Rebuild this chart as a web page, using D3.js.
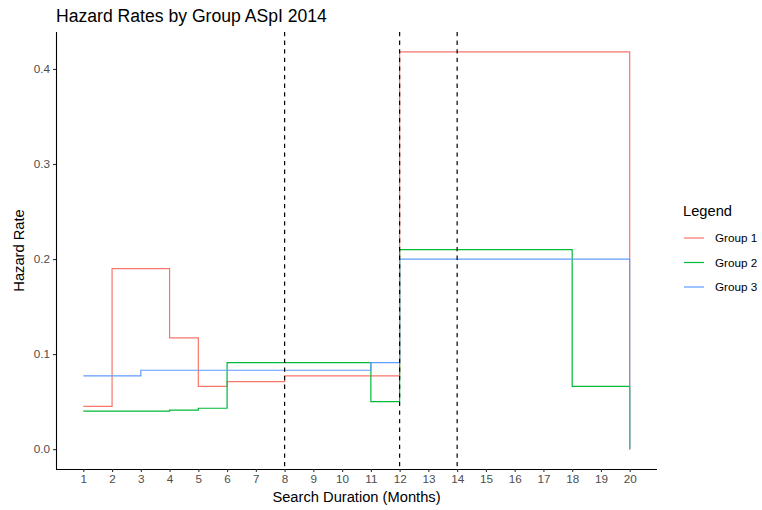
<!DOCTYPE html>
<html>
<head>
<meta charset="utf-8">
<script src="https://cdn.jsdelivr.net/npm/d3@7"></script>
<style>
  html, body { margin: 0; padding: 0; background: #fff; }
  svg { display: block; font-family: "Liberation Sans", Arial, sans-serif; }
</style>
</head>
<body>
<svg id="chart" width="762" height="510"></svg>
<script>
// Monthly hazard rates per group (step function, value holds until the next month)
const months = [1, 2, 3, 4, 5, 6, 7, 8, 9, 10, 11, 12, 13, 14, 15, 16, 17, 18, 19, 20];
const group1 = [0.045, 0.190, 0.190, 0.117, 0.066, 0.071, 0.071, 0.077, 0.077, 0.077, 0.077,
                0.418, 0.418, 0.418, 0.418, 0.418, 0.418, 0.418, 0.418, 0.000];
const group2 = [0.040, 0.040, 0.040, 0.041, 0.043, 0.091, 0.091, 0.091, 0.091, 0.091, 0.050,
                0.210, 0.210, 0.210, 0.210, 0.210, 0.210, 0.066, 0.066, 0.000];
const group3 = [0.077, 0.077, 0.083, 0.083, 0.083, 0.083, 0.083, 0.083, 0.083, 0.083, 0.091,
                0.200, 0.200, 0.200, 0.200, 0.200, 0.200, 0.200, 0.200, 0.000];
const seriesNames = ["Group 1", "Group 2", "Group 3"];
const seriesColors = ["#F8766D", "#00BA38", "#619CFF"];
const markers = [8, 12, 14];
const yTicks = [0.0, 0.1, 0.2, 0.3, 0.4];

const series = [group1, group2, group3].map((vals, i) => ({
  name: seriesNames[i],
  color: seriesColors[i],
  points: months.map((m, j) => ({ x: m, y: vals[j] }))
}));

const svg = d3.select("#chart");
const panel = { left: 56, right: 657, top: 32, bottom: 469 };

// Scales with 5% padding on each side of the data range
const xMin = d3.min(months), xMax = d3.max(months);
const xPad = (xMax - xMin) * 0.05;
const x = d3.scaleLinear().domain([xMin - xPad, xMax + xPad]).range([panel.left, panel.right]);

const allY = series.flatMap(s => s.points.map(p => p.y));
const yMin = d3.min(allY), yMax = d3.max(allY);
const yPad = (yMax - yMin) * 0.05;
const y = d3.scaleLinear().domain([yMin - yPad, yMax + yPad]).range([panel.bottom, panel.top]);

// Step lines
const line = d3.line().x(d => x(d.x)).y(d => y(d.y)).curve(d3.curveStepAfter);
svg.append("g").selectAll("path").data(series).join("path")
  .attr("d", d => line(d.points))
  .attr("fill", "none")
  .attr("stroke", d => d.color)
  .attr("stroke-width", 1.2)
  .attr("stroke-linejoin", "miter");

// Reference lines
svg.append("g").selectAll("line").data(markers).join("line")
  .attr("x1", d => x(d)).attr("x2", d => x(d))
  .attr("y1", panel.top).attr("y2", panel.bottom)
  .attr("stroke", "#000")
  .attr("stroke-width", 1.2)
  .attr("stroke-dasharray", "4.3,4.3");

// Axes
const xAxis = d3.axisBottom(x).tickValues(months).tickSize(3).tickPadding(3).tickSizeOuter(0);
const gx = svg.append("g").attr("transform", `translate(0,${panel.bottom})`).call(xAxis);
const yAxis = d3.axisLeft(y).tickValues(yTicks).tickFormat(d3.format(".1f")).tickSize(3).tickPadding(3).tickSizeOuter(0);
const gy = svg.append("g").attr("transform", `translate(${panel.left},0)`).call(yAxis);

[gx, gy].forEach(g => {
  g.select(".domain").attr("stroke", "#000").attr("stroke-width", 1.1);
  g.selectAll(".tick line").attr("stroke", "#333").attr("stroke-width", 1.1);
  g.selectAll(".tick text").attr("fill", "#4D4D4D").style("font-size", "11.7px")
    .style("font-family", "'Liberation Sans', Arial, sans-serif");
});
// Extend the axis lines to the panel corner
gx.select(".domain").attr("d", `M${panel.left},0.5H${panel.right}`);
gy.select(".domain").attr("d", `M0.5,${panel.bottom}V${panel.top}`);

// Titles
svg.append("text").attr("x", panel.left).attr("y", 22)
  .style("font-size", "17.6px").attr("fill", "#000")
  .text("Hazard Rates by Group ASpI 2014");

svg.append("text").attr("x", (panel.left + panel.right) / 2).attr("y", 502)
  .attr("text-anchor", "middle").style("font-size", "14.7px").attr("fill", "#000")
  .text("Search Duration (Months)");

svg.append("text")
  .attr("transform", `translate(24,${(panel.top + panel.bottom) / 2}) rotate(-90)`)
  .attr("text-anchor", "middle").style("font-size", "14.7px").attr("fill", "#000")
  .text("Hazard Rate");

// Legend
const legend = svg.append("g").attr("transform", "translate(683,0)");
legend.append("text").attr("x", 0).attr("y", 216)
  .style("font-size", "14.7px").attr("fill", "#000").text("Legend");
const items = legend.selectAll("g.item").data(series).join("g")
  .attr("class", "item")
  .attr("transform", (d, i) => `translate(0,${238 + i * 24.5})`);
items.append("line").attr("x1", 1).attr("x2", 21).attr("y1", 0).attr("y2", 0)
  .attr("stroke", d => d.color).attr("stroke-width", 1.2);
items.append("text").attr("x", 32).attr("y", 4.2)
  .style("font-size", "11.7px").attr("fill", "#000").text(d => d.name);
</script>
</body>
</html>
